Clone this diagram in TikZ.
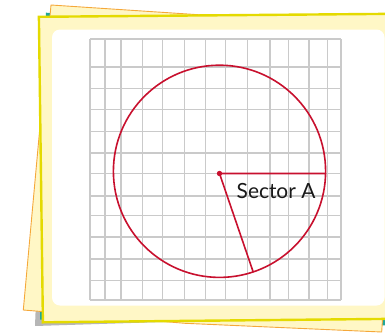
\documentclass[tikz,border=0pt]{standalone}
\usepackage{fontspec}
\setmainfont{Lato}
\definecolor{paperfill}{HTML}{FFF7C6}
\definecolor{yborder}{HTML}{E4DA00}
\definecolor{oborder}{HTML}{F5A83A}
\definecolor{tealc}{HTML}{1FA79A}
\definecolor{shadowc}{HTML}{B6B6B6}
\definecolor{gridc}{HTML}{CACACA}
\definecolor{sectred}{HTML}{C8102E}
\begin{document}
\begin{tikzpicture}[x=1pt,y=-1pt,
  gridline/.style={draw=gridc,line width=1.5pt},
  redline/.style={draw=sectred,line width=1.6pt},
  labeltext/.style={anchor=base west,inner sep=0pt,text=black!90,font=\fontsize{20.9}{24}\selectfont}]
\useasboundingbox (0,0) rectangle (385,332);
% shadow paper
\fill[shadowc] (40,200) -- (35,326) -- (195,321) -- (195,200) -- cycle;
% teal paper
\fill[tealc] (46,12.7) -- (40,319.5) -- (200,320.5) -- (386,325.5) -- (400,36) -- cycle;
% orange-edged paper
\filldraw[fill=paperfill,draw=oborder,line width=0.9pt]
  (51,5) -- (23.3,310) -- (185,323.3) -- (381.7,332) -- (400,28) -- cycle;
% main paper
\filldraw[fill=paperfill,draw=yborder,line width=2.4pt]
  (38.9,16.8) -- (396,13.8) -- (396,318.8) -- (42.9,322.3) -- cycle;
% white sheet
\fill[white,rounded corners=8pt] (52,29.5) rectangle (384.5,305.5);
% grid
\foreach \x in {90,105,121,142.3,162.7,184.3,205.7,225.3,247.3,270,288.7,309,327.3,341}
  \draw[gridline] (\x,39) -- (\x,300);
\foreach \y in {39,67,88.3,109.7,131.7,153,173.3,196,215.7,237,259,280.7,300}
  \draw[gridline] (90,\y) -- (341,\y);
% circle and sector
\coordinate (C) at (219.5,171.3);
\coordinate (O) at (219.5,173.5);
\coordinate (R) at (325.6,173.5);
\coordinate (S) at (253.3,272.3);
\draw[redline] (C) circle[radius=106.1];
\draw[redline] (R) -- (O) -- (S);
\fill[sectred] (O) circle[radius=2.7];
\node[labeltext] (lbl) at (236.5,198.3) {Sector A};
\end{tikzpicture}
\end{document}
